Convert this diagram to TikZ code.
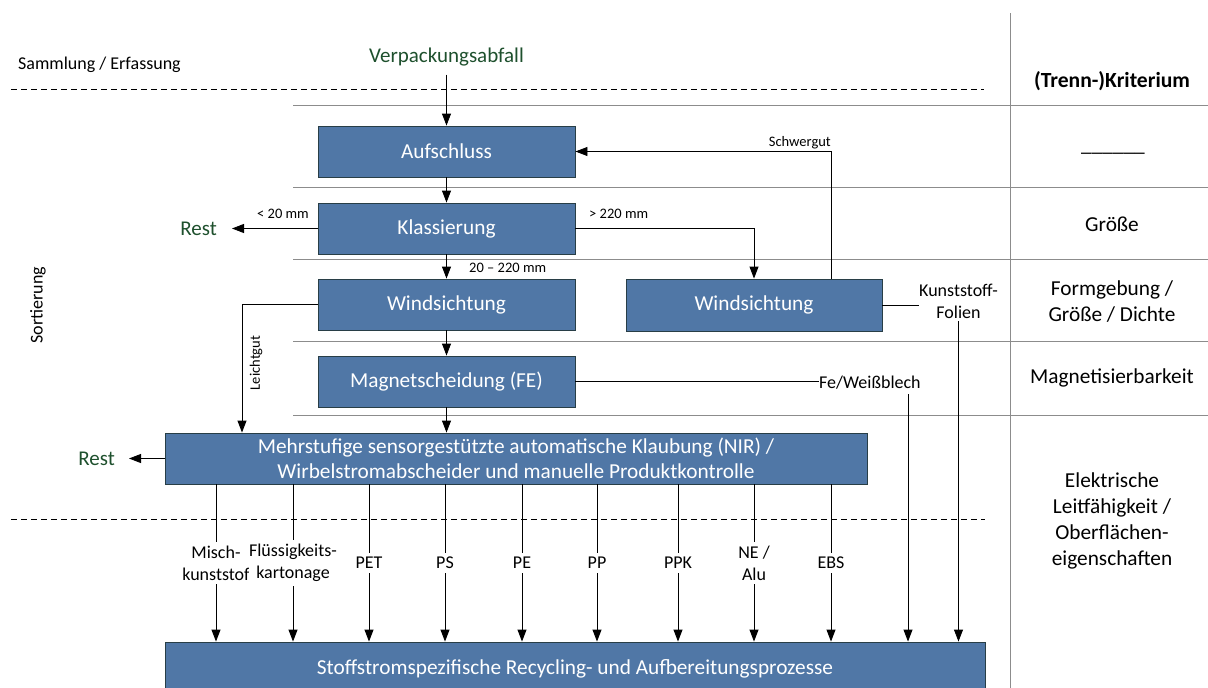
\documentclass[tikz,border=0pt]{standalone}
\usepackage{fontspec}
\setmainfont{Carlito}
\usetikzlibrary{arrows.meta}
\definecolor{boxfill}{RGB}{80,119,166}
\definecolor{boxdraw}{RGB}{40,62,70}
\definecolor{dgreen}{RGB}{30,80,45}
\definecolor{gline}{RGB}{140,140,140}
\begin{document}
\begin{tikzpicture}[x=1pt,y=-1pt,
 proc/.style={draw=boxdraw, fill=boxfill, text=white, font=\fontsize{21.3}{25}\selectfont, align=center, line width=0.9pt, inner sep=0pt},
 arr/.style={-{Triangle[length=12pt,width=9pt]}, line width=0.9pt},
 conn/.style={line width=0.9pt},
 sepline/.style={gline, line width=1pt},
 dsh/.style={dash pattern=on 6pt off 4pt, line width=0.8pt},
 smalllbl/.style={font=\fontsize{14.5}{17}\selectfont, inner sep=0pt},
 medlbl/.style={font=\fontsize{18}{22}\selectfont, align=center, inner sep=0pt},
 crit/.style={font=\fontsize{21.3}{25.5}\selectfont, align=center, inner sep=0pt},
 greentext/.style={text=dgreen, font=\fontsize{21}{25}\selectfont}
]
\useasboundingbox (0,0) rectangle (1208,688);

% separators
\foreach \y in {105,187,259,341,415} \draw[sepline] (293,\y) -- (1208,\y);
\draw[sepline] (1010,13) -- (1010,688);
\draw[dsh] (11,89) -- (984,89);
\draw[dsh] (11,519) -- (985,519);

% side labels
\node[medlbl, anchor=west] (samm) at (18,65) {Sammlung / Erfassung};
\node[medlbl, rotate=90] (sort) at (38,305) {Sortierung};

% criteria
\node[crit, font=\fontsize{21.6}{25.5}\selectfont\bfseries] (c0) at (1112,81) {(Trenn-)Kriterium};
\node[crit] (c1) at (1113,153) {\_\_\_\_\_\_};
\node[crit] (c2) at (1112,224) {Größe};
\node[crit] (c3) at (1112,301.5) {Formgebung /\\Größe / Dichte};
\node[crit] (c4) at (1112,378) {Magnetisierbarkeit};
\node[crit, font=\fontsize{21.3}{26}\selectfont] (c5) at (1112,521) {Elektrische\\Leitfähigkeit /\\Oberflächen-\\eigenschaften};

% process boxes
\node[proc, minimum width=257pt, minimum height=51pt] (auf) at (446.5,151.5) {Aufschluss};
\node[proc, minimum width=257pt, minimum height=51pt] (kla) at (446.5,228.5) {Klassierung};
\node[proc, minimum width=257pt, minimum height=51pt] (wind1) at (446.5,304.5) {Windsichtung};
\node[proc, minimum width=256pt, minimum height=52pt] (wind2) at (754,305) {Windsichtung};
\node[proc, minimum width=257pt, minimum height=51pt] (mag) at (446.5,381.5) {Magnetscheidung (FE)};
\node[proc, minimum width=702pt, minimum height=51pt] (mehr) at (516,458.5) {Mehrstufige sensorgestützte automatische Klaubung (NIR) /\\Wirbelstromabscheider und manuelle Produktkontrolle};
\node[proc, minimum width=820pt, minimum height=54pt] (bot) at (575,669) {Stoffstromspezifische Recycling- und Aufbereitungsprozesse};

% input
\node[greentext] (verp) at (446.5,57) {Verpackungsabfall};
\draw[arr, shorten <=5pt] (verp.south) -- (auf.north);

% main chain
\draw[arr] (auf.south) -- (kla.north);
\draw[arr] (kla.south) -- (wind1.north);
\draw[arr] (wind1.south) -- (mag.north);
\draw[arr] (mag.south) -- (mag.south |- mehr.north);

% Klassierung branches
\node[greentext, anchor=east, inner xsep=15pt] (rest1) at (232,228.5) {Rest};
\draw[arr] (kla.west) -- (kla.west -| rest1.east);
\node[smalllbl, anchor=east] (l20) at (309,214) {< 20 mm};
\node[smalllbl, anchor=west] (l220) at (589,214) {> 220 mm};
\node[smalllbl, anchor=west] (lmid) at (469,268) {20 – 220 mm};
\draw[arr] (kla.east) -| (wind2.north);

% Schwergut
\coordinate (sgx) at (831,0);
\draw[arr] (wind2.north -| sgx) |- (auf.east);
\node[smalllbl, anchor=east] (lsw) at (831,143) {Schwergut};

% Leichtgut
\coordinate (lgx) at (242,0);
\draw[arr] (wind1.west) -| (mehr.north -| lgx);
\node[smalllbl, rotate=90] (llg) at (256,363) {Leichtgut};

% Kunststoff-Folien
\node[medlbl, anchor=west] (kf) at (919,301) {Kunststoff-\\Folien};
\draw[conn] (wind2.east) -- (wind2.east -| kf.west);
\draw[arr, shorten <=3pt] (kf.south) -- (kf.south |- bot.north);

% Fe/Weissblech
\node[medlbl, anchor=west] (fe) at (819,383) {Fe/Weißblech};
\draw[conn] (mag.east) -- (mag.east -| fe.west);
\coordinate (fex) at (908,394);
\draw[arr] (fex) -- (fex |- bot.north);

% Rest after sorting
\node[greentext, anchor=east, inner xsep=14pt] (rest2) at (129,458.5) {Rest};
\draw[arr] (mehr.west) -- (mehr.west -| rest2.east);

% outputs
\foreach \x/\t in {216/{Misch-\\kunststof}, 293/{Flüssigkeits-\\kartonage}, 369/{PET}, 445/{PS}, 522/{PE}, 597/{PP}, 678/{PPK}, 754/{NE /\\Alu}, 831/{EBS}} {
  \coordinate (o) at (\x,0);
  \draw[arr] (mehr.south -| o) -- node[medlbl, fill=white, inner xsep=0pt, inner ysep=4pt] {\t} (bot.north -| o);
}
\end{tikzpicture}
\end{document}
